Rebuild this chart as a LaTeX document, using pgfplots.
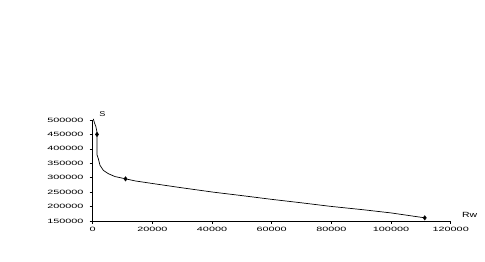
\documentclass[border=0pt]{standalone}
\usepackage{fontspec}
\setmainfont{Liberation Sans}
\usepackage{pgfplots}
\pgfplotsset{compat=1.18}
\begin{document}
\begin{tikzpicture}
\begin{axis}[
  at={(0pt,0pt)}, anchor=south west,
  scale only axis, width=358pt, height=101pt,
  xmin=0, xmax=120000, ymin=150000, ymax=500000,
  axis lines=left, axis line style={-, line width=0.8pt},
  xtick={0,20000,...,120000}, ytick={150000,200000,...,500000},
  scaled ticks=false,
  /pgf/number format/assume math mode=true,
  xticklabel={\pgfmathprintnumber[fixed,1000 sep={}]{\tick}},
  yticklabel={\pgfmathprintnumber[fixed,1000 sep={}]{\tick}},
  tick label style={font=\fontsize{6.2}{7}\selectfont, xscale=1.75},
  tick align=outside, major tick length=3pt,
  tick style={black, line width=0.6pt},
  xtick pos=bottom, ytick pos=left,
  clip=false,
]
\addplot[black, line width=0.7pt] coordinates {
(200,504000) (600,490000) (1100,476000) (1440,458000) (1440,380000)
(1880,366000) (2450,343000) (3550,325700) (5230,314000) (7470,304000)
(10820,296600) (14170,289000) (20000,280000) (29250,266000) (40400,250000)
(50000,238000) (60000,225000) (70000,213000) (79500,201000) (90700,189000)
(100000,178000) (111300,161000)
};
\addplot[only marks, mark=diamond*, mark size=2.2pt, black] coordinates {
(1440,450000) (11000,296000) (111300,161000)
};
\end{axis}
\node[font=\fontsize{7}{8}\selectfont, xscale=1.3] at (9.6pt,107pt) {S};
\node[font=\fontsize{7.5}{8}\selectfont, xscale=1.4] at (377pt,6pt) {Rw};
\path[use as bounding box] (-92.7pt,-41pt) rectangle (392.3pt,221pt);
\end{tikzpicture}
\end{document}
